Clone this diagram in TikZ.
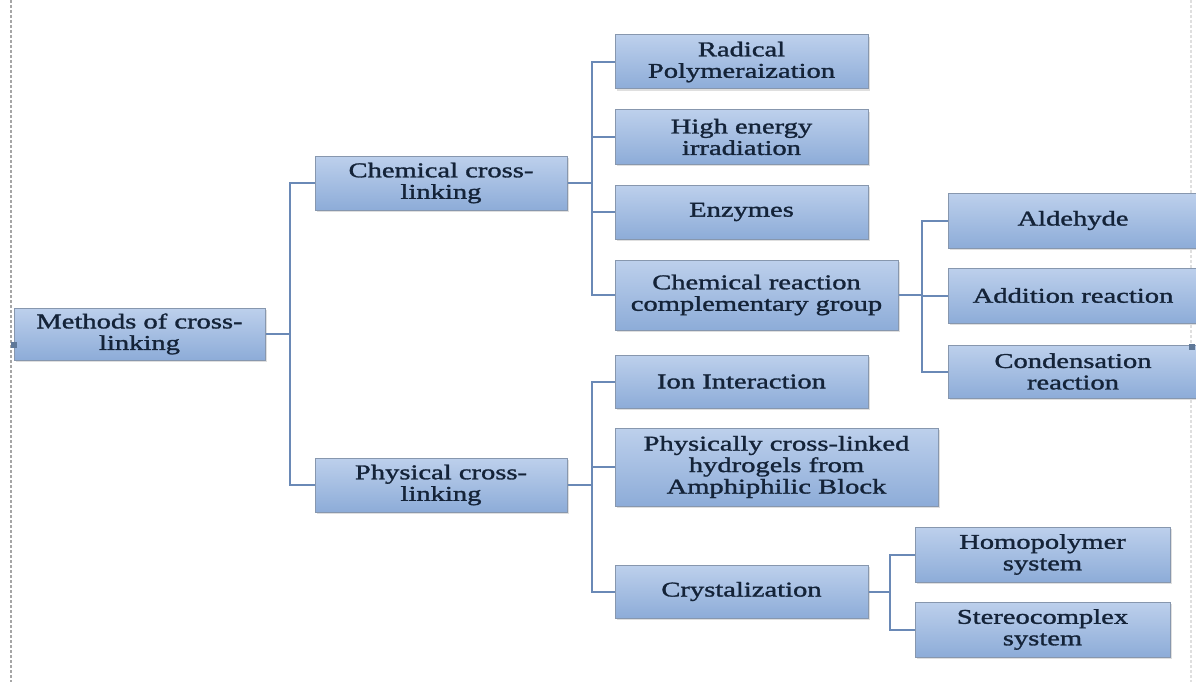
\documentclass[tikz,border=0pt]{standalone}
\usepackage{fontspec}
\setmainfont{Liberation Serif}[FakeStretch=1.36,FakeBold=1.4]
\usetikzlibrary{shadows}
\definecolor{txtc}{HTML}{142338}
\definecolor{boxtop}{HTML}{BDD0EC}
\definecolor{boxbot}{HTML}{8DACD8}
\definecolor{boxline}{HTML}{8797AE}
\definecolor{connc}{HTML}{6A89B6}
\definecolor{handle}{HTML}{5F7898}
\tikzset{
  box/.style={rectangle, draw=boxline, line width=1pt, top color=boxtop, bottom color=boxbot,
    text=txtc, align=center, inner sep=0pt,
    font=\fontsize{21}{21.5}\selectfont,
    drop shadow={shadow xshift=2pt, shadow yshift=-2pt, opacity=0.25, fill=gray}},
  conn/.style={draw=connc, line width=2pt},
  frameline/.style={draw=gray!70, line width=1.6pt, dash pattern=on 3pt off 2pt},
}
\begin{document}
\begin{tikzpicture}[x=1pt,y=-1pt]
\useasboundingbox (0,0) rectangle (1196,682);
\fill[white] (0,0) rectangle (1196,682);
\draw[frameline] (11,0) -- (11,682);
\draw[draw=gray!25, line width=1.2pt, dash pattern=on 3pt off 2pt] (1191,0) -- (1191,682);

% level 0
\node[box, minimum width=251pt, minimum height=52pt] (m) at (139.5,334) {Methods of cross-\\linking};
% level 1
\node[box, minimum width=252pt, minimum height=54pt] (chem) at (441,183) {Chemical cross-\\linking};
\node[box, minimum width=252pt, minimum height=54pt] (phys) at (441,485) {Physical cross-\\linking};
% chemical children
\node[box, minimum width=253pt, minimum height=54pt] (rad) at (741.5,62) {Radical\\Polymeraization};
\node[box, minimum width=253pt, minimum height=54pt] (hei) at (741.5,137) {High energy\\irradiation};
\node[box, minimum width=253pt, minimum height=54pt] (enz) at (741.5,212) {Enzymes};
\node[box, minimum width=283pt, minimum height=70pt] (crc) at (756.5,295) {Chemical reaction\\complementary group};
% crc children
\node[box, minimum width=250pt, minimum height=55pt] (ald) at (1073,220.5) {Aldehyde};
\node[box, minimum width=250pt, minimum height=55pt] (add) at (1073,295.5) {Addition reaction};
\node[box, minimum width=250pt, minimum height=53pt] (cond) at (1073,371.5) {Condensation\\reaction};
% physical children
\node[box, minimum width=253pt, minimum height=53pt] (ion) at (741.5,381.5) {Ion Interaction};
\node[box, minimum width=323pt, minimum height=78pt] (pcl) at (776.5,467) {Physically cross-linked\\hydrogels from\\Amphiphilic Block};
\node[box, minimum width=253pt, minimum height=53pt] (cry) at (741.5,591.5) {Crystalization};
% crystalization children
\node[box, minimum width=255pt, minimum height=55pt] (homo) at (1042.5,554.5) {Homopolymer\\system};
\node[box, minimum width=255pt, minimum height=55pt] (ster) at (1042.5,629.5) {Stereocomplex\\system};

% connectors
\draw[conn] (chem.west) -- ++(-25,0) |- (m.east);
\draw[conn] (phys.west) -- ++(-25,0) |- (m.east);
\foreach \c in {rad,hei,enz,crc}
  \draw[conn] (\c.west) -- ++(-23,0) |- (chem.east);
\foreach \c in {ion,pcl,cry}
  \draw[conn] (\c.west) -- ++(-23,0) |- (phys.east);
\foreach \c in {ald,add,cond}
  \draw[conn] (\c.west) -- ++(-26,0) |- (crc.east);
\foreach \c in {homo,ster}
  \draw[conn] (\c.west) -- ++(-25,0) |- (cry.east);

% selection handles
\node[fill=handle, minimum size=6pt, inner sep=0pt] (h1) at (14,345) {};
\node[fill=handle, minimum size=6pt, inner sep=0pt] (h2) at (1192,347) {};
\end{tikzpicture}
\end{document}
